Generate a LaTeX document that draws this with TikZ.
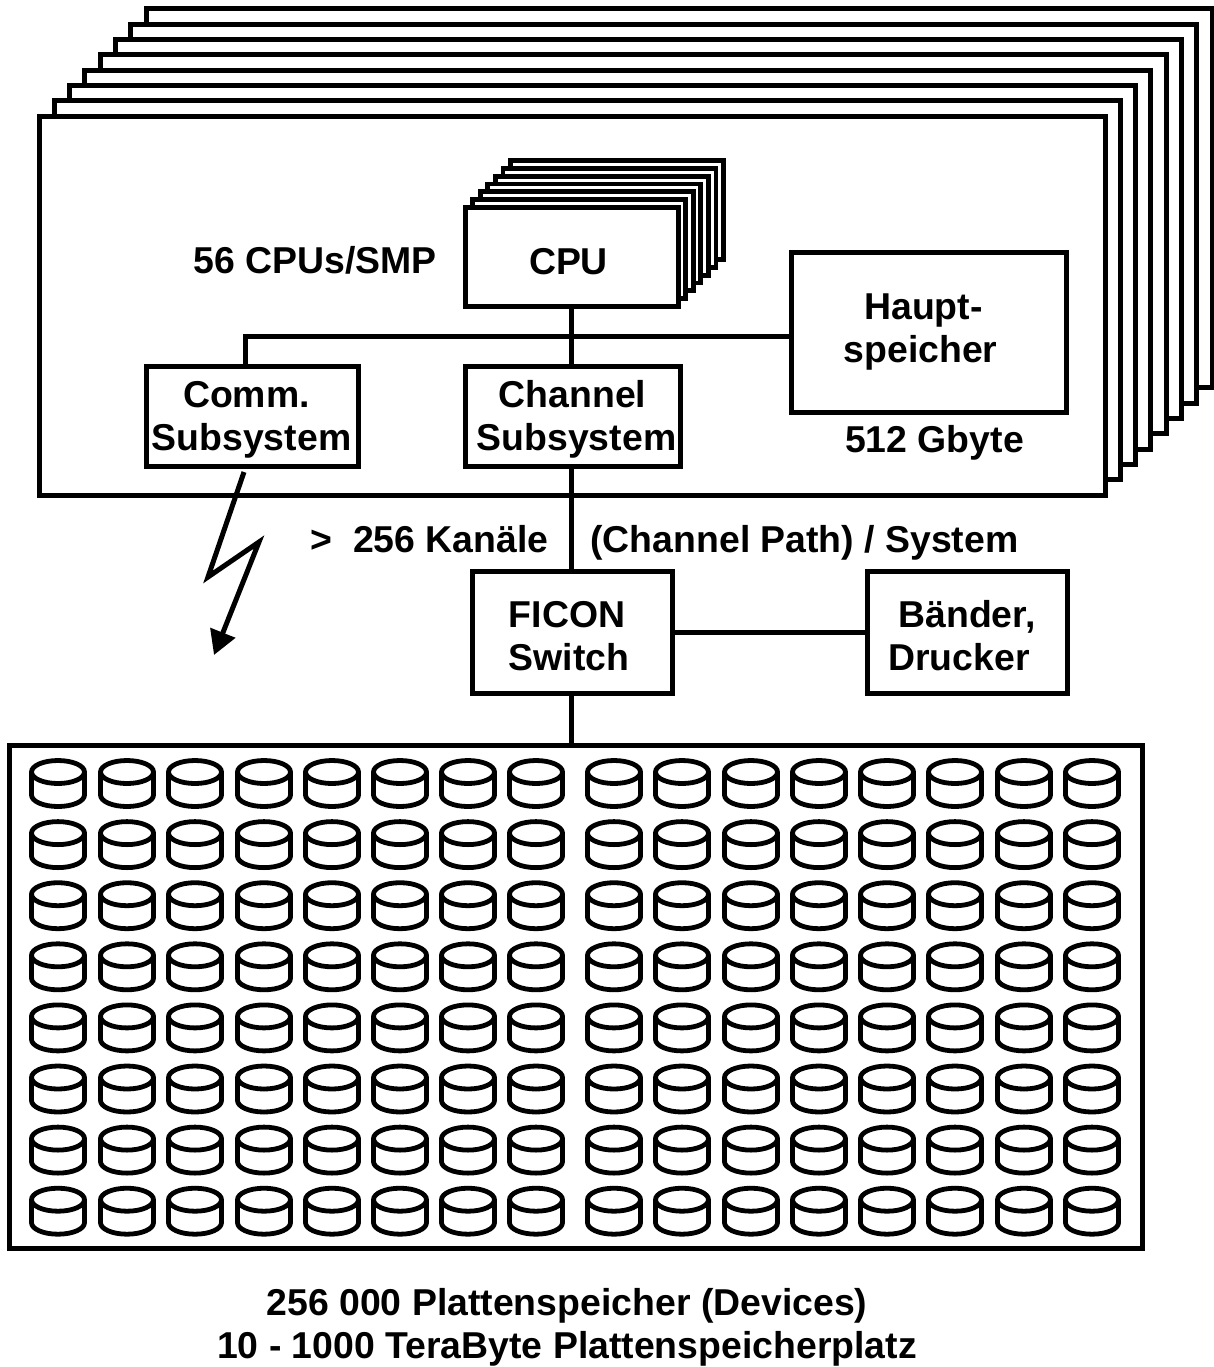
\documentclass[tikz,border=0pt]{standalone}
\usepackage{fontspec}
\setmainfont{Liberation Sans}
\usetikzlibrary{arrows.meta,positioning}
% first and last line of a box text: sideways shift, fixed height or depth
\newcommand{\topline}[2][16.6pt]{\hspace*{#2}\rule{0pt}{#1}}
\newcommand{\lowline}[2][4pt]{\hspace*{#2}\rule[-#1]{0pt}{#1}}
\tikzset{
  panel/.style={draw,fill=white,line width=2.5pt,outer sep=0pt,minimum width=533pt,minimum height=189.5pt},
  cpubox/.style={draw,fill=white,line width=2.4pt,outer sep=0pt,minimum width=106.5pt,minimum height=49.5pt},
  unit/.style={draw,fill=white,line width=2.5pt,outer sep=0pt,inner sep=0pt,align=center,font=\bfseries\fontsize{18.7}{21.6}\selectfont},
  lbl/.style={inner sep=0pt,align=center,font=\bfseries\fontsize{18.7}{21.6}\selectfont},
  conn/.style={line width=2.5pt},
  bolt/.style={line width=2.5pt,miter limit=20,-{Triangle[length=12pt,width=13pt]}},
  disk/.pic={
    \draw[line width=2.4pt,line join=round] (-26.5,-11.5) -- (-26.5,11.5) arc[start angle=180,end angle=360,x radius=26.5,y radius=-11.5]
      -- (26.5,-11.5);
    \draw[line width=2.4pt] (0,-11.5) ellipse[x radius=26.5,y radius=11.5];
  }
}
\begin{document}
\begin{tikzpicture}[x=0.5pt,y=-0.5pt]
  \useasboundingbox (0,0) rectangle (1214,1367);
  % stacked systems, back to front
  \foreach \i in {7,6,...,0}
    \node[panel] (panel\i) at ({572+15.3*\i},{305.5-15.3*\i}) {};
  \foreach \i in {6,5,...,1}
    \node[cpubox] (cpu\i) at ({571.5+7.6*\i},{256.5-7.7*\i}) {};
  \node[unit,minimum width=106.5pt,minimum height=49.5pt] (cpu) at (571.5,256.5) {\topline[21.5pt]{-3pt}CPU\rule[-4pt]{0pt}{4pt}};
  \node[lbl,left=14pt of cpu,yshift=-2pt] (smp) {56 CPUs/SMP};
  \node[unit,minimum width=137.5pt,minimum height=80pt] (mem) at (928.5,332) {\topline{-5pt}Haupt-\\\lowline[8pt]{-8pt}speicher};
  \node[lbl,below=6.5pt of mem,xshift=3pt] (memsize) {512 Gbyte};
  \node[unit,minimum width=106pt,minimum height=50pt] (comm) at (252.5,416) {\topline{-6pt}Comm.\\\lowline{-1pt}Subsystem};
  \node[unit,minimum width=107.5pt,minimum height=50pt] (channel) at (572.5,416) {\topline{0pt}Channel\\\lowline{4pt}Subsystem};
  \node[unit,minimum width=100pt,minimum height=61pt] (ficon) at (572,632) {\topline[20.6pt]{-5pt}FICON\\\lowline{-3pt}Switch};
  \node[unit,minimum width=100pt,minimum height=61pt,right=97.5pt of ficon] (tape) {\topline[20.6pt]{0pt}Bänder,\\\lowline{-8pt}Drucker};
  \node[lbl,anchor=base west] (paths) at (310,552) {>~~256 Kanäle};
  \node[lbl,anchor=base west] (pathname) at (590,552) {(Channel Path) / System};
  \node[unit,minimum width=566.5pt,minimum height=251.5pt] (store) at (575.5,996.5) {};
  \node[lbl] (storetext) at (567,1327.5) {256 000 Plattenspeicher (Devices)\\10 - 1000 TeraByte Plattenspeicherplatz};
  % disks
  \foreach \x in {58,127,195,264,332,400,468,536,614,682,751,819,887,955,1024,1092}
    \foreach \r in {0,...,7}
      \pic at (\x,{783.5+61.1*\r}) {disk};
  % connections
  \coordinate (bus) at (245,336);
  \coordinate (trunk) at (571.5,336);
  \draw[conn] (cpu.south) -- (trunk |- channel.north);
  \draw[conn] (bus |- comm.north) -- (bus) -- (bus -| mem.west);
  \draw[conn] (trunk |- channel.south) -- (trunk |- ficon.north);
  \draw[conn] (ficon.east) -- (tape.west);
  \draw[conn] (trunk |- ficon.south) -- (trunk |- store.north);
  \coordinate (b0) at (244,472);
  \coordinate (b1) at (208,577);
  \coordinate (b2) at (259,542);
  \coordinate (b3) at (214,655);
  \draw[bolt] (b0) -- (b1) -- (b2) -- (b3);
\end{tikzpicture}
\end{document}
